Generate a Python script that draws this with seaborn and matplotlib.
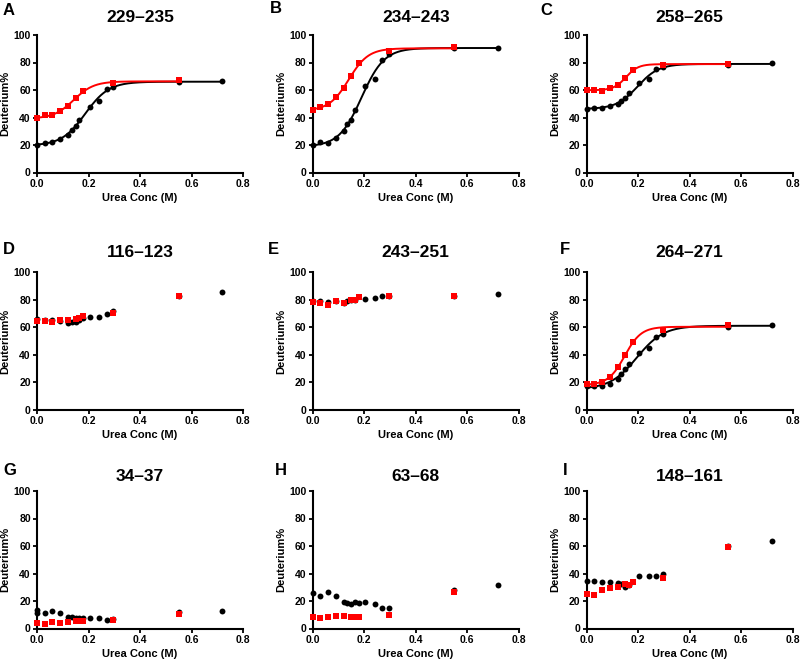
import numpy as np
import pandas as pd
import matplotlib
matplotlib.use("Agg")
import matplotlib.pyplot as plt
import seaborn as sns

nan = np.nan
# Shared urea concentrations (M)
x_black = [0, 0.03, 0.06, 0.09, 0.12, 0.135, 0.15, 0.165, 0.18, 0.205, 0.24, 0.27, 0.295, 0.55, 0.72]
x_red = [0, 0.03, 0.06, 0.09, 0.12, 0.15, 0.165, 0.18, 0.295, 0.55]

panel_letters = ["A", "B", "C", "D", "E", "F", "G", "H", "I"]
panel_titles = ["229\u2013235", "234\u2013243", "258\u2013265", "116\u2013123", "243\u2013251",
                "264\u2013271", "34\u201337", "63\u201368", "148\u2013161"]
fitted = [True, True, True, False, False, True, False, False, False]

a_black = [20, 21.5, 22.5, 24.5, 27, 31, 33.5, 38.5, nan, 48, 52, 61, 62, 65.5, 66.5]
a_red = [39.5, 41.5, 41.5, 45, 48.5, 54, nan, 59, 65, 67]
b_black = [20, 22, 21.5, 25, 30.5, 35, 38.5, 45.5, nan, 63, 68, 82, 86, 90.5, 90.5]
b_red = [45.5, 47.5, 50, 55, 61.5, 70, nan, 79.5, 88.5, 91]
c_black = [46.5, 47, 47, 48.5, 49.5, 52, 54, 57.5, nan, 65, 68, 75.5, 76.5, 78, 79.5]
c_red = [60, 60, 59.5, 61.5, 64, 68.5, nan, 74.5, 78.5, 79]
d_black = [66, 65, 65, 64.5, 63, 63.5, 63.5, 65, 66.5, 67.5, 67.5, 70, 72, 82.5, 86]
d_red = [64.5, 64.5, 63.5, 65, 65, 66, 66.5, 68, 70.5, 82.5]
e_black = [79, 79, 78.5, 79, 78, 79, 79.5, 80, nan, 80.5, 81.5, 82.5, 83, 83, 84]
e_red = [78.5, 78, 76.5, 79, 78, 79.5, 79.5, 82, 82.5, 83]
f_black = [17, 17.5, 17.5, 19, 22.5, 26, 29.5, 33, nan, 41.5, 45, 53, 55, 60.5, 62]
f_red = [18.5, 19, 20.5, 23.5, 31, 40, nan, 49.5, 58, 62]
g_black = [13.5, 11.5, 13, 11, 8.5, 8.5, 7.5, 8, 8, 8, 7.5, 6.5, 7, 12, 12.5]
g_red = [4, 3.5, 4.5, 4, 4.5, 5.5, 5.5, 5.5, 6, 10.5]
g_black_extra_x = [0]
g_black_extra_y = [11]
h_black = [26, 23.5, 26.5, 23.5, 19, 18.5, 17.5, 19, 18.5, 19.5, 18, 15, 15, 28, 31.5]
h_red = [8.5, 7.5, 8.5, 9, 9, 8.5, 8.5, 8.5, 10, 26.5]
i_black = [34.5, 34.5, 34, 34, 33, 32.5, 30.5, 31.5, nan, 38, 38, 38.5, 39.5, 60, 64]
i_red = [25, 24.5, 28, 29.5, 30, 32.5, 31.5, 33.5, 37, 59]

black_sets = [a_black, b_black, c_black, d_black, e_black, f_black, g_black, h_black, i_black]
red_sets = [a_red, b_red, c_red, d_red, e_red, f_red, g_red, h_red, i_red]

RED = "#ff0000"
BLACK = "#000000"


def fit_sigmoid(x, y):
    """Least-squares Boltzmann sigmoid fit (grid over midpoint/slope)."""
    x = np.asarray(x, float)
    y = np.asarray(y, float)
    best = None
    for x50 in np.linspace(0.05, 0.4, 141):
        for k in np.linspace(0.01, 0.1, 91):
            s = 1.0 / (1.0 + np.exp((x50 - x) / k))
            A = np.column_stack([1 - s, s])
            coef = np.linalg.lstsq(A, y, rcond=None)[0]
            r = np.sum((A @ coef - y) ** 2)
            if best is None or r < best[0]:
                best = (r, x50, k, coef)
    _, x50, k, coef = best
    return lambda xx: coef[0] + (coef[1] - coef[0]) / (1.0 + np.exp((x50 - xx) / k))


sns.set_style("ticks")
plt.rcParams["font.family"] = ["Liberation Sans", "DejaVu Sans"]
plt.rcParams["font.weight"] = "bold"
for key in ["text.color", "axes.labelcolor", "xtick.color", "ytick.color", "axes.edgecolor"]:
    plt.rcParams[key] = "black"

fig = plt.figure(figsize=(8, 6.61), dpi=100)
W, H = 800, 661
col_left = [37, 312.7, 586.7]
row_top = [35, 272.3, 491]
ax_w, ax_h = 206, 137.5
letter_pos = [(3, 3), (270, 1), (540, 3), (3, 242), (268, 242), (560, 242),
              (3, 463), (275, 463), (563, 463)]
title_pad = [9, 9, 9, 11, 11, 11, 7, 7, 7]

for i in range(9):
    r, c = divmod(i, 3)
    left = col_left[c]
    top = row_top[r]
    ax = fig.add_axes([left / W, 1 - (top + ax_h) / H, ax_w / W, ax_h / H])

    bx = np.array(x_black, float)
    by = np.array(black_sets[i], float)
    m = ~np.isnan(by)
    bx, by = bx[m], by[m]
    if i == 6:
        bx = np.concatenate([bx, g_black_extra_x])
        by = np.concatenate([by, g_black_extra_y])
    rx = np.array(x_red, float)
    ry = np.array(red_sets[i], float)
    m = ~np.isnan(ry)
    rx, ry = rx[m], ry[m]

    if fitted[i]:
        fb = fit_sigmoid(bx, by)
        xb = np.linspace(0, 0.72, 300)
        sns.lineplot(x=xb, y=fb(xb), ax=ax, color=BLACK, lw=1.4, zorder=2)
        fr = fit_sigmoid(rx, ry)
        xr = np.linspace(0, 0.55, 300)
        sns.lineplot(x=xr, y=fr(xr), ax=ax, color=RED, lw=1.4, zorder=2)

    sns.scatterplot(x=bx, y=by, ax=ax, marker="o", color=BLACK, s=18,
                    linewidth=0, zorder=3, clip_on=False)
    sns.scatterplot(x=rx, y=ry, ax=ax, marker="s", color=RED, s=17,
                    linewidth=0, zorder=4, clip_on=False)

    ax.set_xlim(0, 0.8)
    ax.set_ylim(0, 100)
    ax.set_xticks([0, 0.2, 0.4, 0.6, 0.8])
    ax.set_xticklabels(["0.0", "0.2", "0.4", "0.6", "0.8"])
    ax.set_yticks([0, 20, 40, 60, 80, 100])
    sns.despine(ax=ax)
    for s in ["left", "bottom"]:
        ax.spines[s].set_linewidth(1.5)
        ax.spines[s].set_color(BLACK)
    ax.tick_params(length=3, width=1.3, labelsize=7.5, pad=1.5, direction="out",
                   color=BLACK, labelcolor=BLACK)
    for lab in ax.get_xticklabels() + ax.get_yticklabels():
        lab.set_fontweight("bold")
    ax.set_xlabel("Urea Conc (M)", fontsize=8, fontweight="bold", labelpad=3, color=BLACK)
    ax.set_ylabel("Deuterium%", fontsize=8, fontweight="bold", labelpad=2, color=BLACK)
    ax.set_title(panel_titles[i], fontsize=12.5, fontweight="bold", pad=title_pad[i], color=BLACK)
    lx, ly = letter_pos[i]
    fig.text(lx / W, 1 - ly / H, panel_letters[i], fontsize=12, fontweight="bold",
             ha="left", va="top", color=BLACK)

fig.savefig("out.png", dpi=100)
